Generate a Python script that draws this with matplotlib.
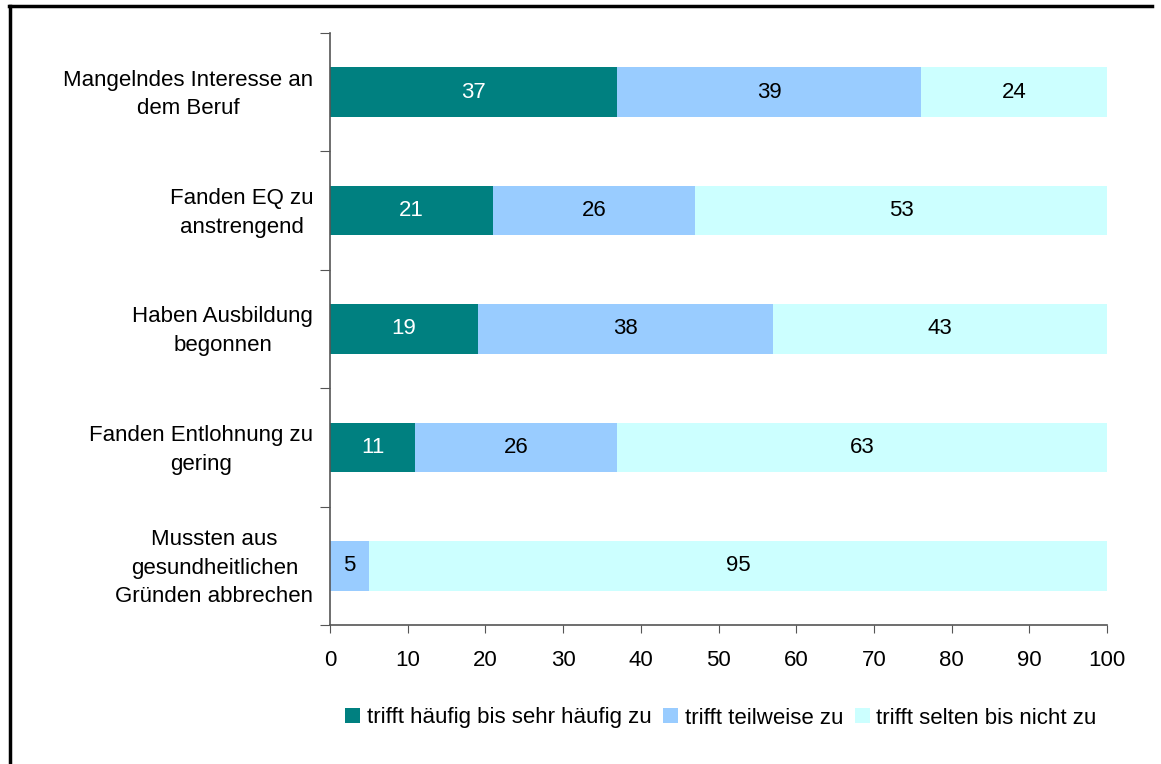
import matplotlib
matplotlib.use("Agg")
import matplotlib.pyplot as plt
from matplotlib.lines import Line2D
import matplotlib.transforms as mtransforms
import numpy as np

plt.rcParams['font.family'] = ['Liberation Sans', 'DejaVu Sans']

categories = [
    "Mangelndes Interesse an\ndem Beruf",
    "Fanden EQ zu\nanstrengend",
    "Haben Ausbildung\nbegonnen",
    "Fanden Entlohnung zu\ngering",
    "Mussten aus\ngesundheitlichen\nGründen abbrechen",
]
series_names = ["trifft häufig bis sehr häufig zu", "trifft teilweise zu", "trifft selten bis nicht zu"]
haeufig = [37, 21, 19, 11, 0]
teilweise = [39, 26, 38, 26, 5]
selten = [24, 53, 43, 63, 95]
colors = ["#008080", "#99CCFF", "#CCFFFF"]
text_colors = ["white", "black", "black"]
xticks = [0, 10, 20, 30, 40, 50, 60, 70, 80, 90, 100]

FS = 16
W, H = 1161, 764
fig = plt.figure(figsize=(W / 100, H / 100), dpi=100)
ax = fig.add_axes([330 / W, 1 - 625 / H, (1107 - 330) / W, (625 - 33) / H])

y = np.arange(len(categories))
left = np.zeros(len(categories))
for vals, name, col, tc in zip([haeufig, teilweise, selten], series_names, colors, text_colors):
    vals = np.array(vals, dtype=float)
    ax.barh(y, vals, left=left, height=0.42, color=col, label=name, edgecolor='none')
    for yi, v, l in zip(y, vals, left):
        if v > 0:
            ax.text(l + v / 2, yi, f"{int(v)}", ha='center', va='center', color=tc, fontsize=FS)
    left += vals

ax.set_xlim(0, 100)
ax.set_ylim(len(categories) - 0.5, -0.5)
ax.set_xticks(xticks)
ax.set_xticklabels([str(t) for t in xticks], fontsize=FS)
ax.set_yticks(np.arange(-0.5, len(categories), 1.0))
ax.set_yticklabels([])
ax.set_yticks(y, minor=True)
ax.set_yticklabels(categories, minor=True, fontsize=FS, multialignment='center', linespacing=1.48)
ax.tick_params(axis='y', which='minor', length=0, pad=12)
ax.tick_params(axis='y', which='major', length=7, direction='out', color='#555555')
ax.tick_params(axis='x', length=6, direction='out', pad=12, color='#555555')
for s in ['top', 'right']:
    ax.spines[s].set_visible(False)
for s in ['left', 'bottom']:
    ax.spines[s].set_color('#555555')
    ax.spines[s].set_linewidth(1.2)

shift = mtransforms.ScaledTranslation(0, 4 / 100, fig.dpi_scale_trans)
for lbl in ax.get_yticklabels(minor=True):
    lbl.set_transform(lbl.get_transform() + shift)

leg = fig.legend(loc='center', bbox_to_anchor=(721 / W, 1 - 718 / H), ncol=3, frameon=False,
                 fontsize=FS, handlelength=0.65, handleheight=0.65, handletextpad=0.3,
                 columnspacing=0.55)

fig.add_artist(Line2D([10 / W, 10 / W], [0, 1 - 6 / H], color='black', lw=2.5, transform=fig.transFigure))
fig.add_artist(Line2D([9 / W, 1152 / W], [1 - 6 / H, 1 - 6 / H], color='black', lw=2.5, transform=fig.transFigure))

fig.savefig("out.png", dpi=100)
